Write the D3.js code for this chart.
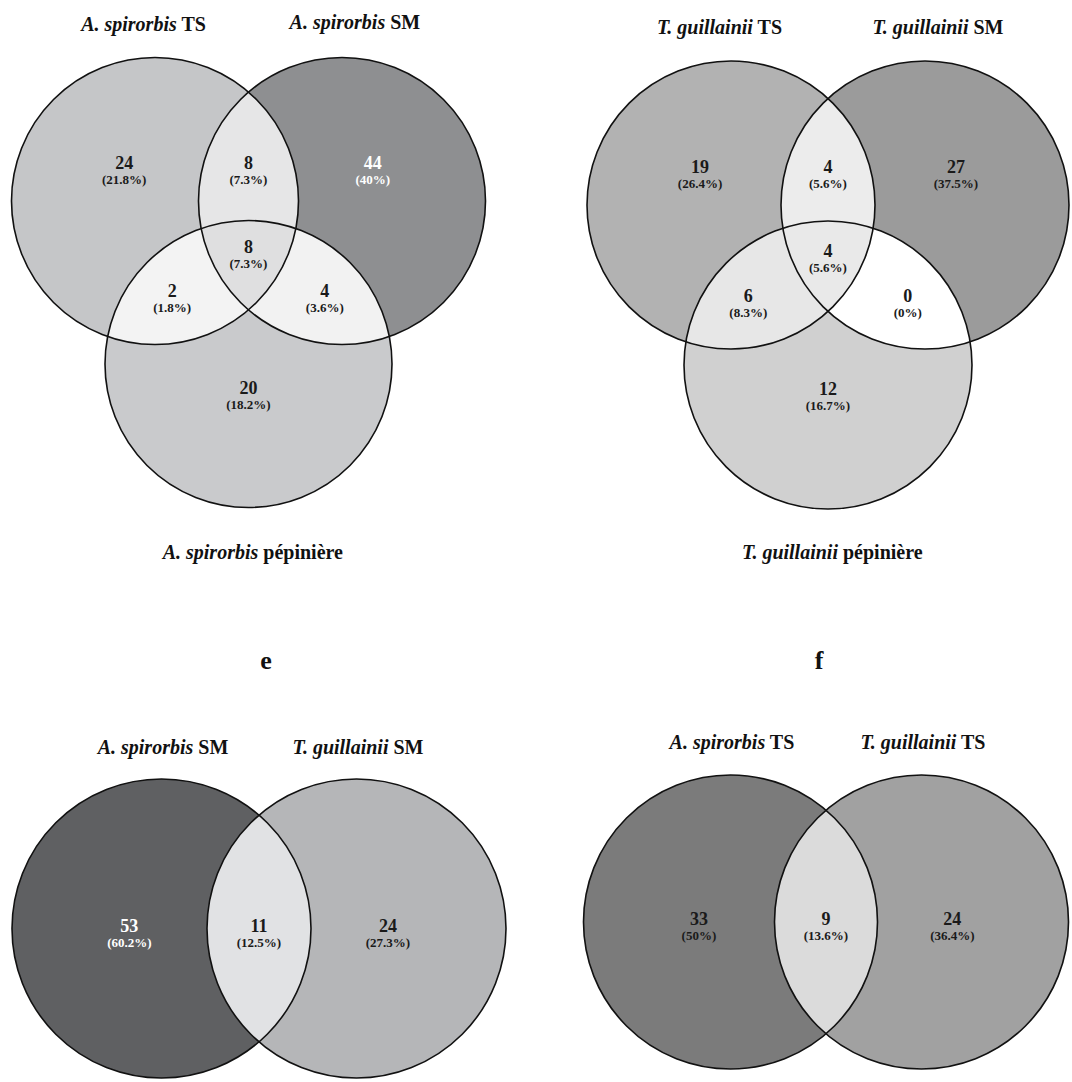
<!DOCTYPE html>
<html>
<head>
<meta charset="utf-8">
<script src="https://cdn.jsdelivr.net/npm/d3@7"></script>
<style>
  html, body { margin: 0; padding: 0; background: #fff; }
  svg { display: block; }
</style>
</head>
<body>
<svg id="chart" width="1072" height="1082"></svg>
<script>
// ---------------- DATA ----------------
// region order for 3-set panels: [A only, B only, C only, A∩B, A∩C, B∩C, A∩B∩C]
const regionKeys3 = ["A", "B", "C", "AB", "AC", "BC", "ABC"];
// region order for 2-set panels: [A only, B only, A∩B]
const regionKeys2 = ["A", "B", "AB"];

// Panel 1: A. spirorbis
const spirSetsSpecies = ["A. spirorbis", "A. spirorbis", "A. spirorbis"];
const spirSetsSite = ["TS", "SM", "pépinière"];
const spirCounts = [24, 44, 20, 8, 2, 4, 8];
const spirPercents = ["21.8%", "40%", "18.2%", "7.3%", "1.8%", "3.6%", "7.3%"];

// Panel 2: T. guillainii
const guilSetsSpecies = ["T. guillainii", "T. guillainii", "T. guillainii"];
const guilSetsSite = ["TS", "SM", "pépinière"];
const guilCounts = [19, 27, 12, 4, 6, 0, 4];
const guilPercents = ["26.4%", "37.5%", "16.7%", "5.6%", "8.3%", "0%", "5.6%"];

// Panel e: SM comparison
const smSetsSpecies = ["A. spirorbis", "T. guillainii"];
const smSetsSite = ["SM", "SM"];
const smCounts = [53, 24, 11];
const smPercents = ["60.2%", "27.3%", "12.5%"];

// Panel f: TS comparison
const tsSetsSpecies = ["A. spirorbis", "T. guillainii"];
const tsSetsSite = ["TS", "TS"];
const tsCounts = [33, 24, 9];
const tsPercents = ["50%", "36.4%", "13.6%"];

const panelLetters = ["e", "f"];

// ---------------- STYLE / LAYOUT ----------------
const FONT = "'Liberation Serif', Tinos, 'Times New Roman', Times, 'DejaVu Serif', 'Noto Serif', serif";
const svg = d3.select("#chart");

const panels = [
  {
    species: spirSetsSpecies, sites: spirSetsSite, counts: spirCounts, pcts: spirPercents, n: 3,
    circles: [{x: 155, y: 201}, {x: 342, y: 201}, {x: 248.5, y: 364}], r: 143.5,
    fills: {A: "#c5c6c8", B: "#8e8f91", C: "#c9cacc", AB: "#e6e6e7", AC: "#f3f3f3", BC: "#f2f2f2", ABC: "#dfdfe0"},
    white: ["B"],
    titleY: [31, 29, 559]
  },
  {
    species: guilSetsSpecies, sites: guilSetsSite, counts: guilCounts, pcts: guilPercents, n: 3,
    circles: [{x: 731, y: 205}, {x: 925, y: 205}, {x: 828, y: 365}], r: 144,
    fills: {A: "#b2b2b2", B: "#9b9b9b", C: "#d0d0d0", AB: "#ececec", AC: "#e7e7e7", BC: "#ffffff", ABC: "#e9e9e9"},
    white: [],
    titleY: [34, 34, 559]
  },
  {
    species: smSetsSpecies, sites: smSetsSite, counts: smCounts, pcts: smPercents, n: 2,
    circles: [{x: 161.5, y: 928.5}, {x: 356.5, y: 928.5}], r: 149.5,
    fills: {A: "#5f6062", B: "#b5b6b8", AB: "#e1e2e4"},
    white: ["A"],
    titleY: [754, 754]
  },
  {
    species: tsSetsSpecies, sites: tsSetsSite, counts: tsCounts, pcts: tsPercents, n: 2,
    circles: [{x: 730.5, y: 922}, {x: 921.5, y: 922}], r: 147,
    fills: {A: "#7b7b7b", B: "#a1a1a1", AB: "#dbdbdb"},
    white: [],
    titleY: [749, 749]
  }
];

const defs = svg.append("defs");

panels.forEach((p, pi) => {
  const g = svg.append("g").attr("class", "panel-" + pi);
  const r = p.r;
  const c = p.circles;
  c.forEach((cc, i) => {
    defs.append("clipPath").attr("id", `clip-${pi}-${i}`)
      .append("circle").attr("cx", cc.x).attr("cy", cc.y).attr("r", r);
  });
  const keys = p.n === 3 ? regionKeys3 : regionKeys2;
  const idx = {A: 0, B: 1, C: 2};

  ["A", "B", "C"].slice(0, p.n).forEach(k => {
    const cc = c[idx[k]];
    g.append("circle").attr("cx", cc.x).attr("cy", cc.y).attr("r", r).attr("fill", p.fills[k]);
  });
  const pairs = p.n === 3 ? ["AB", "AC", "BC"] : ["AB"];
  pairs.forEach(k => {
    const a = c[idx[k[0]]], bI = idx[k[1]];
    g.append("g").attr("clip-path", `url(#clip-${pi}-${bI})`)
      .append("circle").attr("cx", a.x).attr("cy", a.y).attr("r", r).attr("fill", p.fills[k]);
  });
  if (p.n === 3) {
    g.append("g").attr("clip-path", `url(#clip-${pi}-1)`)
      .append("g").attr("clip-path", `url(#clip-${pi}-2)`)
      .append("circle").attr("cx", c[0].x).attr("cy", c[0].y).attr("r", r).attr("fill", p.fills.ABC);
  }
  g.selectAll("circle.outline").data(c).join("circle").attr("class", "outline")
    .attr("cx", d => d.x).attr("cy", d => d.y).attr("r", r)
    .attr("fill", "none").attr("stroke", "#111").attr("stroke-width", 1.6);

  const pos = {};
  const midX = (c[0].x + c[1].x) / 2;
  if (p.n === 3) {
    pos.A = {x: c[0].x - 0.215 * r, y: c[0].y - 0.265 * r};
    pos.B = {x: c[1].x + 0.215 * r, y: c[1].y - 0.265 * r};
    pos.AB = {x: midX, y: c[0].y - 0.265 * r};
    pos.ABC = {x: midX, y: c[0].y + 0.32 * r};
    pos.AC = {x: c[0].x + 0.12 * r, y: c[0].y + 0.63 * r};
    pos.BC = {x: c[1].x - 0.12 * r, y: c[1].y + 0.63 * r};
    pos.C = {x: c[2].x, y: c[2].y + 0.17 * r};
  } else {
    pos.A = {x: c[0].x - 0.215 * r, y: c[0].y - 0.02 * r};
    pos.B = {x: c[1].x + 0.21 * r, y: c[1].y - 0.02 * r};
    pos.AB = {x: midX, y: c[0].y - 0.02 * r};
  }
  keys.forEach((k, i) => {
    const col = p.white.includes(k) ? "#ffffff" : "#1a1a1a";
    const t = g.append("text").attr("text-anchor", "middle").attr("fill", col)
      .attr("font-family", FONT).attr("font-weight", "bold");
    t.append("tspan").attr("x", pos[k].x).attr("y", pos[k].y + 6)
      .attr("font-size", 18).text(p.counts[i]);
    t.append("tspan").attr("x", pos[k].x).attr("y", pos[k].y + 21)
      .attr("font-size", 13).text("(" + p.pcts[i] + ")");
  });

  const titlePos = p.n === 3
    ? [{x: c[0].x - 0.08 * r, y: p.titleY[0]}, {x: c[1].x + 0.09 * r, y: p.titleY[1]}, {x: c[2].x + 0.03 * r, y: p.titleY[2]}]
    : [{x: c[0].x + 0.01 * r, y: p.titleY[0]}, {x: c[1].x + 0.01 * r, y: p.titleY[1]}];
  p.species.forEach((sp, i) => {
    const t = g.append("text").attr("x", titlePos[i].x).attr("y", titlePos[i].y)
      .attr("text-anchor", "middle").attr("font-size", 20).attr("fill", "#111")
      .attr("font-family", FONT).attr("font-weight", "bold");
    t.append("tspan").attr("font-style", "italic").text(sp);
    t.append("tspan").text(" " + p.sites[i]);
  });
});

const letterX = [266, 819];
panelLetters.forEach((l, i) => {
  svg.append("text").attr("x", letterX[i]).attr("y", 669).attr("text-anchor", "middle")
    .attr("font-family", FONT).attr("font-weight", "bold")
    .attr("font-size", 26).attr("fill", "#111").text(l);
});
</script>
</body>
</html>
